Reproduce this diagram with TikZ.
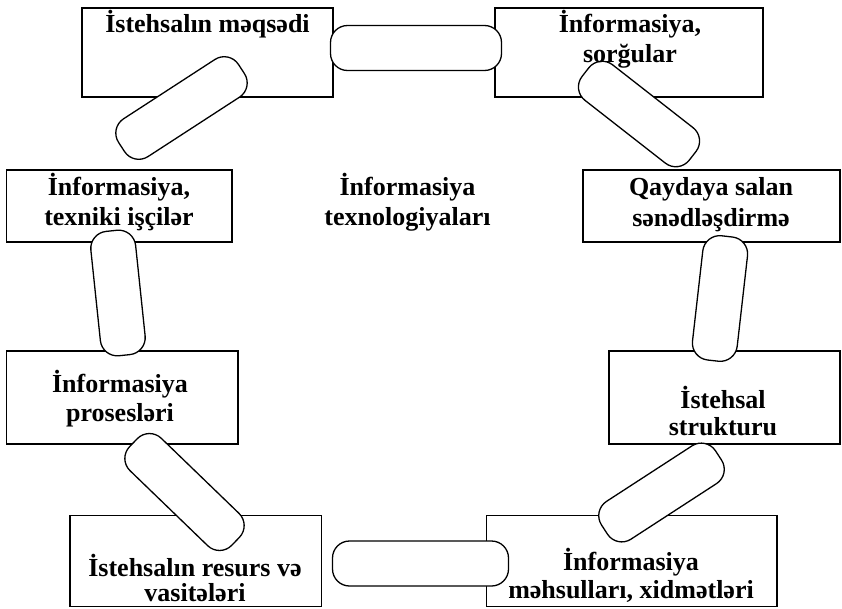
\documentclass[tikz,border=0pt]{standalone}
\usepackage{fontspec}
\setmainfont{Liberation Serif}
\begin{document}
\begin{tikzpicture}[x=1pt,y=-1pt,
  frame/.style={draw, line width=1.8pt, inner sep=0pt, fill=white},
  link/.style={draw, fill=white, line width=1.3pt, rounded corners=17pt,
    minimum height=45pt, inner sep=0pt},
  lbl/.style={anchor=base, inner sep=0pt,
    font=\fontsize{26}{30}\selectfont\bfseries}
]
\useasboundingbox (0,0) rectangle (842,608);

% boxes
\node[frame, minimum width=251pt,   minimum height=89pt] (b1) at (207.5,52.5) {};
\node[frame, minimum width=268pt,   minimum height=89pt] (b2) at (629,52.5) {};
\node[frame, minimum width=257pt,   minimum height=72pt] (b3) at (711.5,206) {};
\node[frame, minimum width=225.5pt, minimum height=72pt] (b4) at (119.25,206) {};
\node[frame, minimum width=231.5pt, minimum height=93pt] (b5) at (122.25,397.5) {};
\node[frame, minimum width=231pt,   minimum height=93pt] (b6) at (724.5,397.5) {};
\node[frame, minimum width=251.5pt, minimum height=91pt] (b7) at (195.75,561) {};
\node[frame, minimum width=290.5pt, minimum height=91pt] (b8) at (631.75,561) {};

% rounded links between neighbouring boxes
\node[link, minimum width=171pt]              (l12) at (416,48) {};
\node[link, minimum width=136pt, rotate=-38]  (l23) at (639,114) {};
\node[link, minimum width=125pt, rotate=83.5] (l36) at (720,298.5) {};
\node[link, minimum width=136pt, rotate=33]   (l68) at (661.5,492.5) {};
\node[link, minimum width=176pt]              (l87) at (420.5,563.5) {};
\node[link, minimum width=142pt, rotate=-44]  (l75) at (184.5,492) {};
\node[link, minimum width=125pt, rotate=96]   (l54) at (118,293) {};
\node[link, minimum width=143pt, rotate=33]   (l41) at (181.5,108) {};

% labels
\node[lbl] (t1)  at (207.5,32) {İstehsalın məqsədi};
\node[lbl] (t2a) at (630,32)   {İnformasiya,};
\node[lbl] (t2b) at (630,62)   {sorğular};
\node[lbl] (t3a) at (711,195)  {Qaydaya salan};
\node[lbl] (t3b) at (711,226)  {sənədləşdirmə};
\node[lbl] (t4a) at (119,195)  {İnformasiya,};
\node[lbl] (t4b) at (119,225)  {texniki işçilər};
\node[lbl] (t5a) at (120,392)  {İnformasiya};
\node[lbl] (t5b) at (120,421)  {prosesləri};
\node[lbl] (t6a) at (723,408)  {İstehsal};
\node[lbl] (t6b) at (723,435)  {strukturu};
\node[lbl] (t7a) at (195,576)  {İstehsalın resurs və};
\node[lbl] (t7b) at (195,601)  {vasitələri};
\node[lbl] (t8a) at (631,570)  {İnformasiya};
\node[lbl] (t8b) at (631,598)  {məhsulları, xidmətləri};
\node[lbl] (tca) at (407.5,195) {İnformasiya};
\node[lbl] (tcb) at (407.5,225) {texnologiyaları};
\end{tikzpicture}
\end{document}
